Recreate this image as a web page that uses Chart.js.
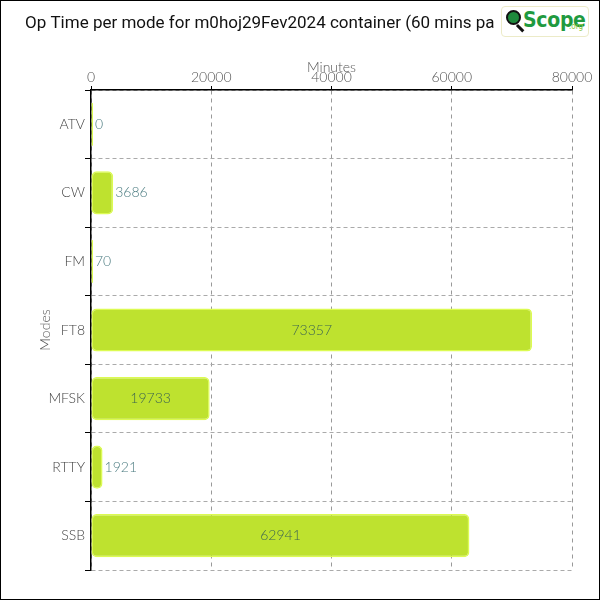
<!DOCTYPE html>
<html><head><meta charset="utf-8">
<script src="https://cdn.jsdelivr.net/npm/chart.js@4"></script>
<style>
html,body{margin:0;padding:0;background:#fff;}
#wrap{position:relative;width:600px;height:600px;box-sizing:border-box;border:1px solid #000;}
#c{display:block;}
#logo{position:absolute;left:500px;top:5px;width:86px;height:29px;border:1px solid #ecebc8;border-radius:4px;background:#fff;font-family:"Liberation Sans Narrow","DejaVu Sans Condensed",sans-serif;}
#lens{position:absolute;left:4px;top:3px;width:15px;height:15px;border-radius:50%;background:#1e8a3c;border:2px solid #111;box-sizing:border-box;}
#handle{position:absolute;left:16px;top:17px;width:9px;height:3px;background:#111;transform:rotate(45deg);transform-origin:0 0;}
#scope{position:absolute;left:21px;top:1px;font-size:21px;font-weight:bold;color:#1f9a3f;letter-spacing:-0.3px;}
#org{position:absolute;left:67px;top:15px;font-size:8px;color:#8cc63f;}
</style></head>
<body>
<div id="wrap">
<canvas id="c" width="598" height="598"></canvas>
<div id="logo"><div id="lens"></div><div id="handle"></div><span id="scope">Scope</span><span id="org">.org</span></div>
</div>
<script>
const titleText = "Op Time per mode for m0hoj29Fev2024 container (60 mins pa";
const modes = ["ATV","CW","FM","FT8","MFSK","RTTY","SSB"];
const minutes = [0,3686,70,73357,19733,1921,62941];
const xTicks = [0,20000,40000,60000,80000];

const FONT = "Lato, 'Open Sans', sans-serif";

const labelPlugin = {
  id: 'valueLabels',
  afterDatasetsDraw(chart) {
    const ctx = chart.ctx;
    const meta = chart.getDatasetMeta(0);
    ctx.save();
    ctx.font = "300 14px " + FONT;
    ctx.textBaseline = 'middle';
    meta.data.forEach((el, i) => {
      const v = minutes[i];
      const txt = String(v);
      const w = ctx.measureText(txt).width;
      const len = Math.abs(el.x - el.base);
      if (len > w + 20) {
        ctx.fillStyle = '#3e6651';
        ctx.textAlign = 'center';
        ctx.fillText(txt, (el.x + el.base) / 2, el.y);
      } else {
        ctx.fillStyle = '#4d7d82';
        ctx.textAlign = 'left';
        ctx.fillText(txt, Math.max(el.x, el.base) + 2, el.y);
      }
    });
    ctx.restore();
  }
};

new Chart(document.getElementById('c'), {
  type: 'bar',
  data: {
    labels: modes,
    datasets: [{
      data: minutes,
      backgroundColor: '#bee22f',
      borderColor: '#dcfb52',
      borderWidth: 1.5,
      borderSkipped: false,
      borderRadius: 5,
      minBarLength: 2,
      barPercentage: 0.9,
      categoryPercentage: 0.7
    }]
  },
  options: {
    indexAxis: 'y',
    responsive: false,
    animation: false,
    layout: { padding: { left: 24, right: 27, top: 0, bottom: 29 } },
    plugins: {
      legend: { display: false },
      tooltip: { enabled: false },
      title: {
        display: true,
        text: titleText,
        align: 'start',
        color: '#111',
        font: { family: "Roboto, sans-serif", size: 17, weight: 'normal', lineHeight: 1.2 },
        padding: { top: 13, bottom: 0 }
      }
    },
    scales: {
      x: {
        position: 'top',
        min: 0, max: 80000,
        afterBuildTicks(scale) { scale.ticks = xTicks.map(v => ({ value: v })); },
        afterFit(scale) { scale.height = 55.6; },
        ticks: { color: '#555', font: { family: FONT, size: 14, weight: 300 }, padding: 0, maxRotation: 0,
                 callback: (v) => String(v) },
        grid: { color: '#999', tickColor: '#000', tickLength: 4 },
        border: { display: true, color: '#000', width: 1.5, dash: [4, 4] },
        title: { display: true, text: 'Minutes', color: '#555', font: { family: FONT, size: 14, weight: 300, lineHeight: 1.2 }, padding: { top: 24.4, bottom: 0 } }
      },
      y: {
        afterFit(scale) { scale.width = 66; },
        ticks: { color: '#444', font: { family: FONT, size: 14, weight: 300 }, padding: 0 },
        grid: { color: '#aaa', tickColor: '#000', tickLength: 6 },
        border: { display: true, color: '#000', width: 1.5, dash: [4, 3] },
        title: { display: true, text: 'Modes', color: '#555', font: { family: FONT, size: 14, weight: 300, lineHeight: 1.2 }, padding: { top: 11.6, bottom: 0 } }
      }
    }
  },
  plugins: [labelPlugin]
});
</script>
</body></html>
